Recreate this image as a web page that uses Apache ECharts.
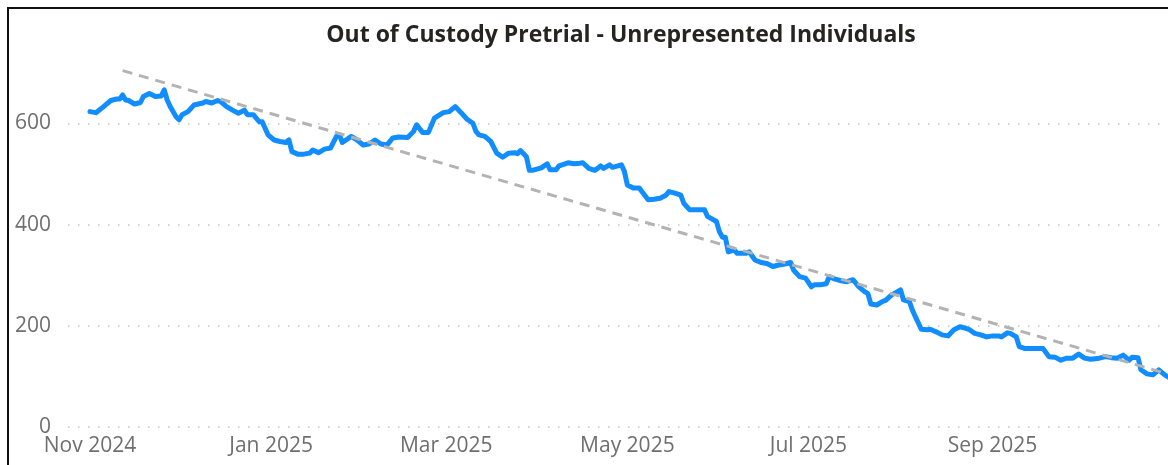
<!DOCTYPE html>
<html>
<head>
<meta charset="utf-8">
<script src="https://cdn.jsdelivr.net/npm/echarts@6/dist/echarts.min.js"></script>
<style>
html, body { margin: 0; padding: 0; background: #fff; overflow: hidden; }
#chart { position: absolute; left: 0; top: 0; width: 1168px; height: 465px; }
#frame { position: absolute; left: 7px; top: 7px; width: 2000px; height: 1000px;
         border-left: 2px solid #111; border-top: 2px solid #111; pointer-events: none; }
</style>
</head>
<body>
<div id="chart"></div>
<div id="frame"></div>
<script>
const titleText = 'Out of Custody Pretrial - Unrepresented Individuals';

const dates = [
  '2024-11-01','2024-11-03','2024-11-05','2024-11-08','2024-11-10','2024-11-11','2024-11-12','2024-11-13','2024-11-14','2024-11-16',
  '2024-11-18','2024-11-19','2024-11-21','2024-11-23','2024-11-25','2024-11-26','2024-11-27','2024-11-28','2024-11-30','2024-12-01',
  '2024-12-02','2024-12-04','2024-12-06','2024-12-09','2024-12-10','2024-12-12','2024-12-14','2024-12-15','2024-12-17','2024-12-19',
  '2024-12-21','2024-12-23','2024-12-24','2024-12-26','2024-12-28','2024-12-29','2024-12-31','2025-01-02','2025-01-04','2025-01-06',
  '2025-01-07','2025-01-08','2025-01-10','2025-01-12','2025-01-14','2025-01-15','2025-01-17','2025-01-19','2025-01-21','2025-01-23',
  '2025-01-24','2025-01-25','2025-01-28','2025-01-30','2025-02-01','2025-02-03','2025-02-05','2025-02-07','2025-02-09','2025-02-11',
  '2025-02-13','2025-02-16','2025-02-18','2025-02-19','2025-02-21','2025-02-23','2025-02-25','2025-02-28','2025-03-02','2025-03-04',
  '2025-03-06','2025-03-08','2025-03-10','2025-03-11','2025-03-12','2025-03-14','2025-03-16','2025-03-18','2025-03-20','2025-03-22',
  '2025-03-24','2025-03-25','2025-03-26','2025-03-28','2025-03-29','2025-03-30','2025-04-02','2025-04-04','2025-04-05','2025-04-07',
  '2025-04-08','2025-04-11','2025-04-13','2025-04-15','2025-04-16','2025-04-18','2025-04-20','2025-04-21','2025-04-22','2025-04-23',
  '2025-04-25','2025-04-26','2025-04-29','2025-04-30','2025-05-01','2025-05-03','2025-05-05','2025-05-08','2025-05-10','2025-05-12',
  '2025-05-14','2025-05-15','2025-05-17','2025-05-19','2025-05-20','2025-05-22','2025-05-24','2025-05-27','2025-05-28','2025-05-31',
  '2025-06-01','2025-06-02','2025-06-03','2025-06-04','2025-06-06','2025-06-07','2025-06-10','2025-06-11','2025-06-13','2025-06-15',
  '2025-06-17','2025-06-19','2025-06-21','2025-06-23','2025-06-25','2025-06-26','2025-06-28','2025-06-30','2025-07-02','2025-07-03',
  '2025-07-05','2025-07-07','2025-07-08','2025-07-10','2025-07-12','2025-07-14','2025-07-16','2025-07-18','2025-07-20','2025-07-21',
  '2025-07-22','2025-07-24','2025-07-26','2025-07-27','2025-07-29','2025-07-31','2025-08-01','2025-08-02','2025-08-04','2025-08-05',
  '2025-08-06','2025-08-08','2025-08-10','2025-08-11','2025-08-13','2025-08-15','2025-08-17','2025-08-19','2025-08-21','2025-08-23',
  '2025-08-24','2025-08-26','2025-08-28','2025-08-30','2025-09-01','2025-09-03','2025-09-04','2025-09-06','2025-09-07','2025-09-09',
  '2025-09-10','2025-09-12','2025-09-14','2025-09-16','2025-09-18','2025-09-20','2025-09-22','2025-09-24','2025-09-26','2025-09-28',
  '2025-09-30','2025-10-02','2025-10-04','2025-10-07','2025-10-09','2025-10-11','2025-10-13','2025-10-15','2025-10-17','2025-10-18',
  '2025-10-20','2025-10-21','2025-10-23','2025-10-25','2025-10-27','2025-10-29','2025-10-31'
];

const counts = [
  623,621,630,645,648,648,656,646,645,638,
  641,653,659,653,654,666,646,633,613,607,
  617,623,636,640,643,640,645,643,633,626,
  620,626,617,617,603,603,577,567,564,562,
  567,544,539,539,541,547,542,549,551,574,
  577,562,574,567,557,559,567,559,557,571,
  573,572,584,597,582,582,610,621,623,633,
  621,608,600,584,577,574,564,541,533,541,
  542,540,546,534,507,507,512,520,508,508,
  516,522,520,521,522,511,507,511,516,511,
  518,513,518,505,478,472,472,449,450,452,
  458,465,462,458,442,429,429,429,416,406,
  386,375,375,346,350,343,343,346,330,325,
  323,317,320,322,325,310,297,294,277,281,
  281,283,297,292,289,287,291,277,267,264,
  243,241,248,250,261,267,271,251,248,231,
  218,193,192,193,188,182,180,192,198,195,
  193,185,182,178,180,180,178,186,185,178,
  159,155,155,155,155,139,138,132,136,136,
  144,136,134,136,139,137,136,142,132,138,
  137,113,105,103,113,103,96
];

const trendDates = ['2024-11-12', '2025-10-30'];
const trendValues = [704, 105];

const tickDates = ['2024-11-01','2025-01-01','2025-03-01','2025-05-01','2025-07-01','2025-09-01'];
const tickLabels = ['Nov 2024','Jan 2025','Mar 2025','May 2025','Jul 2025','Sep 2025'];
const yTicks = [0, 200, 400, 600];

function ts(s) {
  const p = s.split('T');
  const d = p[0].split('-').map(Number);
  let h = 0, m = 0;
  if (p[1]) { const t = p[1].split(':').map(Number); h = t[0]; m = t[1]; }
  return Date.UTC(d[0], d[1] - 1, d[2], h, m);
}

const tickTs = tickDates.map(ts);
const labelFont = { fontFamily: 'Open Sans', fontSize: 21, color: '#6f6f6f' };

const chart = echarts.init(document.getElementById('chart'), null, { renderer: 'canvas' });
chart.setOption({
  animation: false,
  title: {
    text: titleText,
    left: 616,
    top: 19,
    textAlign: 'center',
    textStyle: { fontFamily: 'Open Sans', fontSize: 23, fontWeight: 'bold', color: '#252423' }
  },
  grid: { left: 68, right: 0, top: 60, bottom: 38, containLabel: false },
  xAxis: {
    type: 'value',
    min: ts('2024-10-24T14:10'),
    max: ts('2025-10-30T02:30'),
    axisLine: { show: false },
    axisTick: { show: false },
    splitLine: { show: false },
    axisLabel: Object.assign({
      margin: 9,
      customValues: tickTs,
      formatter: function (v) {
        const i = tickTs.indexOf(v);
        return i >= 0 ? tickLabels[i] : '';
      }
    }, labelFont)
  },
  yAxis: {
    type: 'value',
    min: 0,
    max: 725,
    interval: 200,
    axisLine: { show: false },
    axisTick: { show: false },
    axisLabel: Object.assign({
      margin: 17,
      showMaxLabel: false,
      formatter: function (v) { return yTicks.indexOf(v) >= 0 ? String(v) : ''; }
    }, labelFont),
    splitLine: {
      show: true,
      showMaxLine: false,
      lineStyle: { color: '#c4c4c4', width: 1.5, type: [1.5, 8.5] }
    }
  },
  series: [
    {
      type: 'line',
      data: dates.map((d, i) => [ts(d), counts[i]]),
      symbol: 'none',
      clip: true,
      lineStyle: { color: '#118DFF', width: 5, cap: 'round', join: 'round' },
      z: 2
    },
    {
      type: 'line',
      data: trendDates.map((d, i) => [ts(d), trendValues[i]]),
      symbol: 'none',
      clip: true,
      lineStyle: { color: '#b3b3b3', width: 3, type: [10, 7] },
      z: 3
    }
  ]
});
</script>
</body>
</html>
